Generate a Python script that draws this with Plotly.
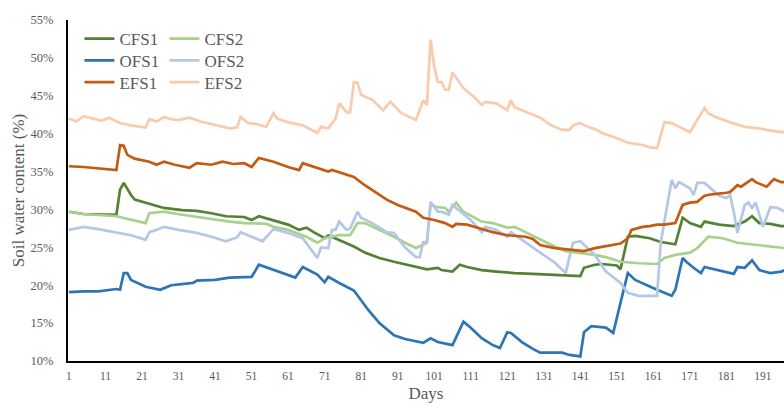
import plotly.graph_objects as go

# ---------------- data (soil water content, %) ----------------
cfs1_days = [1, 5, 14, 15, 16, 18, 19, 24, 27, 32,
             36, 40, 44, 49, 51, 53, 57, 61, 64, 66,
             68, 71, 72, 75, 79, 82, 86, 90, 93, 97,
             99, 102, 103, 106, 108, 110, 114, 118, 123, 128,
             132, 137, 141, 142, 145, 147, 151, 152, 154, 156,
             160, 163, 167, 169, 171, 174, 175, 179, 183, 186,
             188, 190, 193, 196, 197]
cfs1_vals = [29.7, 29.4, 29.3, 32.6, 33.5, 31.9, 31.3, 30.6, 30.2, 29.9,
             29.8, 29.5, 29.1, 29.0, 28.6, 29.1, 28.6, 28.0, 27.3, 27.6,
             27.0, 26.2, 26.6, 26.0, 25.1, 24.3, 23.6, 23.1, 22.8, 22.4,
             22.1, 22.3, 22.0, 21.8, 22.7, 22.4, 22.0, 21.8, 21.6, 21.5,
             21.4, 21.2, 21.2, 22.3, 22.7, 22.8, 22.6, 22.1, 26.4, 26.5,
             26.2, 25.7, 25.4, 28.9, 28.2, 27.7, 28.4, 28.0, 27.8, 28.4,
             29.1, 28.2, 28.1, 27.8, 27.8]

cfs2_days = [1, 5, 14, 22, 23, 27, 32, 36, 41, 45,
             49, 55, 57, 61, 66, 69, 71, 73, 75, 78,
             80, 82, 86, 90, 93, 96, 99, 100, 102, 104,
             105, 107, 109, 114, 117, 121, 123, 126, 130, 134,
             137, 141, 145, 148, 152, 157, 162, 164, 167, 171,
             173, 176, 180, 184, 189, 192, 196, 197]
cfs2_vals = [29.7, 29.4, 29.1, 28.2, 29.5, 29.7, 29.3, 29.0, 28.7, 28.4,
             28.2, 28.1, 27.7, 27.3, 26.4, 25.6, 26.2, 26.4, 26.6, 26.6,
             28.2, 28.2, 27.3, 26.4, 25.6, 24.9, 25.6, 30.6, 30.3, 30.2,
             29.7, 30.9, 29.7, 28.4, 28.2, 27.6, 27.7, 27.0, 26.0, 25.1,
             24.5, 24.3, 24.0, 23.7, 23.1, 22.9, 22.8, 23.6, 24.0, 24.3,
             24.9, 26.4, 26.2, 25.6, 25.3, 25.1, 24.9, 24.9]

ofs1_days = [1, 5, 9, 14, 15, 16, 17, 18, 22, 26,
             29, 35, 36, 41, 45, 49, 51, 53, 57, 61,
             63, 65, 69, 71, 72, 75, 79, 83, 86, 90,
             93, 98, 100, 102, 106, 109, 111, 114, 117, 119,
             121, 122, 125, 128, 130, 133, 136, 138, 141, 142,
             144, 148, 150, 152, 154, 156, 159, 162, 166, 167,
             169, 170, 172, 174, 175, 180, 183, 184, 186, 188,
             190, 193, 196, 197]
ofs1_vals = [19.1, 19.2, 19.2, 19.5, 19.4, 21.6, 21.6, 20.7, 19.8, 19.4,
             20.0, 20.3, 20.6, 20.7, 21.0, 21.0, 21.1, 22.7, 22.0, 21.4,
             21.0, 22.4, 21.4, 20.4, 21.1, 20.3, 19.3, 16.7, 15.0, 13.4,
             12.9, 12.4, 13.0, 12.5, 12.1, 15.2, 14.4, 13.0, 12.1, 11.7,
             13.8, 13.7, 12.5, 11.6, 11.1, 11.1, 11.1, 10.8, 10.6, 13.8,
             14.6, 14.4, 13.7, 17.7, 21.6, 20.7, 20.0, 19.4, 18.6, 19.4,
             23.6, 23.1, 22.3, 21.6, 22.4, 21.8, 21.5, 22.4, 22.3, 23.3,
             22.0, 21.6, 21.8, 22.0]

ofs2_days = [1, 5, 9, 14, 18, 22, 23, 25, 27, 31,
             36, 40, 44, 47, 48, 50, 54, 57, 61, 65,
             69, 70, 72, 73, 74, 75, 77, 78, 80, 81,
             84, 88, 90, 93, 96, 97, 98, 99, 100, 102,
             103, 105, 106, 107, 111, 114, 115, 118, 121, 122,
             126, 130, 134, 137, 138, 139, 141, 143, 145, 148,
             152, 154, 157, 162, 163, 166, 167, 168, 171, 172,
             173, 175, 177, 179, 181, 182, 183, 184, 186, 187,
             188, 189, 191, 193, 195, 197]
ofs2_vals = [27.3, 27.7, 27.4, 27.0, 26.6, 26.0, 27.0, 27.3, 27.7, 27.3,
             26.9, 26.4, 25.8, 26.3, 27.0, 26.6, 25.8, 27.4, 26.9, 26.2,
             23.6, 25.0, 24.9, 27.3, 27.3, 28.4, 27.3, 27.5, 29.7, 28.9,
             28.2, 27.0, 26.9, 25.0, 23.7, 23.7, 25.7, 25.7, 31.0, 29.7,
             29.7, 29.3, 30.6, 30.2, 28.6, 27.0, 27.7, 27.3, 26.4, 27.0,
             25.6, 24.3, 23.0, 21.6, 23.7, 25.6, 25.8, 24.9, 24.0, 21.8,
             20.3, 19.0, 18.6, 18.6, 25.6, 33.9, 32.8, 33.6, 32.8, 31.9,
             33.5, 33.5, 32.6, 31.8, 31.5, 31.9, 29.7, 26.9, 30.6, 30.9,
             30.2, 30.9, 27.7, 30.3, 30.2, 29.7]

efs1_days = [1, 5, 14, 15, 16, 17, 19, 23, 25, 27,
             30, 34, 36, 40, 43, 46, 49, 51, 53, 57,
             61, 64, 65, 68, 72, 73, 76, 79, 82, 85,
             88, 91, 93, 96, 97, 98, 101, 104, 106, 107,
             110, 114, 117, 121, 126, 128, 130, 134, 138, 142,
             145, 147, 152, 154, 155, 158, 160, 162, 164, 167,
             169, 171, 173, 175, 177, 181, 182, 184, 185, 188,
             189, 192, 194, 196, 197]
efs1_vals = [35.7, 35.6, 35.2, 38.5, 38.4, 37.2, 36.7, 36.3, 35.9, 36.3,
             35.9, 35.5, 36.1, 35.9, 36.3, 36.0, 36.1, 35.6, 36.8, 36.3,
             35.6, 35.2, 36.1, 35.6, 35.0, 35.2, 34.8, 34.3, 33.2, 32.3,
             31.3, 30.6, 30.2, 29.7, 29.3, 28.9, 28.6, 28.2, 27.7, 28.1,
             28.0, 27.4, 27.0, 26.6, 26.4, 26.1, 25.3, 24.9, 24.7, 24.5,
             24.9, 25.1, 25.5, 26.2, 27.3, 27.7, 27.8, 28.0, 28.0, 28.2,
             30.6, 30.9, 31.0, 31.8, 32.0, 32.2, 32.3, 33.2, 33.0, 34.0,
             33.6, 33.0, 34.0, 33.6, 33.6]

efs2_days = [1, 3, 5, 9, 10, 12, 15, 18, 22, 23,
             25, 27, 29, 31, 34, 37, 42, 45, 47, 48,
             50, 52, 55, 57, 58, 61, 65, 69, 70, 72,
             74, 75, 77, 78, 79, 80, 81, 84, 87, 89,
             92, 96, 98, 99, 100, 101, 102, 103, 104, 105,
             106, 109, 112, 114, 115, 118, 121, 122, 123, 127,
             130, 133, 136, 138, 139, 141, 143, 145, 147, 151,
             154, 158, 160, 162, 164, 166, 168, 171, 173, 175,
             176, 178, 182, 186, 190, 192, 196, 197]
efs2_vals = [42.0, 41.6, 42.3, 41.8, 41.7, 42.1, 41.4, 41.1, 40.8, 41.9,
             41.6, 42.2, 41.9, 41.8, 42.1, 41.6, 41.0, 40.7, 40.8, 42.2,
             41.4, 41.3, 40.9, 42.7, 42.0, 41.5, 41.1, 40.1, 40.9, 40.7,
             42.0, 44.0, 42.8, 42.8, 46.8, 46.7, 45.1, 44.5, 43.1, 44.2,
             42.7, 41.8, 44.4, 43.8, 52.4, 48.8, 46.8, 46.8, 45.8, 45.8,
             48.1, 46.0, 44.8, 43.8, 44.2, 44.0, 43.1, 44.4, 43.5, 42.7,
             42.1, 41.1, 40.5, 40.5, 41.1, 41.4, 40.9, 40.6, 40.1, 39.4,
             38.8, 38.5, 38.2, 38.1, 41.5, 41.4, 40.9, 40.2, 41.8, 43.4,
             42.7, 42.2, 41.5, 40.9, 40.7, 40.5, 40.2, 40.2]

series_names = ["CFS1", "CFS2", "OFS1", "OFS2", "EFS1", "EFS2"]
x_tick_labels = [1, 11, 21, 31, 41, 51, 61, 71, 81, 91,
                 101, 111, 121, 131, 141, 151, 161, 171, 181, 191]
y_tick_values = [10, 15, 20, 25, 30, 35, 40, 45, 50, 55]

# ---------------- styling ----------------
FONT = "Liberation Serif, Times New Roman, serif"
GREY = "#595959"
colors = {"CFS1": "#548235", "CFS2": "#A9D18E", "OFS1": "#2E75B6",
          "OFS2": "#B4C7E7", "EFS1": "#C55A11", "EFS2": "#F8CBAD"}
# one legend per row: (CFS1, CFS2), (OFS1, OFS2), (EFS1, EFS2)
legend_of = {"CFS1": "legend", "CFS2": "legend",
             "OFS1": "legend2", "OFS2": "legend2",
             "EFS1": "legend3", "EFS2": "legend3"}

data = {
    "CFS1": (cfs1_days, cfs1_vals), "CFS2": (cfs2_days, cfs2_vals),
    "OFS1": (ofs1_days, ofs1_vals), "OFS2": (ofs2_days, ofs2_vals),
    "EFS1": (efs1_days, efs1_vals), "EFS2": (efs2_days, efs2_vals),
}

fig = go.Figure()
for name in series_names:
    xs, ys = data[name]
    fig.add_trace(go.Scatter(
        x=xs, y=ys, mode="lines", name=name,
        line=dict(color=colors[name], width=2.7),
        legend=legend_of[name],
    ))

legend_common = dict(
    font=dict(family=FONT, size=17, color=GREY),
    bgcolor="rgba(0,0,0,0)", borderwidth=0,
    orientation="h", xanchor="left", yanchor="top",
    itemwidth=30, entrywidth=40, entrywidthmode="pixels",
    x=0.016,
)
fig.update_layout(
    width=784, height=403,
    margin=dict(l=68, r=0, t=20, b=42),
    paper_bgcolor="white", plot_bgcolor="white",
    font=dict(family=FONT, color=GREY),
    legend=dict(y=0.997, **legend_common),
    legend2=dict(y=0.933, **legend_common),
    legend3=dict(y=0.869, **legend_common),
    xaxis=dict(
        range=[0.75, 196.75], tickmode="array", tickvals=x_tick_labels,
        ticktext=[str(v) for v in x_tick_labels],
        showgrid=False, zeroline=False, showline=True, linecolor="black",
        linewidth=2, ticks="", ticklabelstandoff=3, automargin=False,
        tickfont=dict(family=FONT, size=11.5, color=GREY),
        title=dict(text="Days", font=dict(family=FONT, size=17, color=GREY),
                   standoff=7),
    ),
    yaxis=dict(
        range=[10, 55], tickmode="array", tickvals=y_tick_values,
        ticktext=[f"{v}%" for v in y_tick_values],
        showgrid=False, zeroline=False, showline=True, linecolor="black",
        linewidth=2, ticks="", ticklabelstandoff=10, automargin=False,
        tickfont=dict(family=FONT, size=12.5, color=GREY),
        title=dict(text="Soil water content (%)",
                   font=dict(family=FONT, size=17, color=GREY), standoff=2),
    ),
)

fig.write_html("out.html",
               config={"displayModeBar": False},
               post_script="document.body.style.margin='0';"
                           "document.body.style.overflow='hidden';")
